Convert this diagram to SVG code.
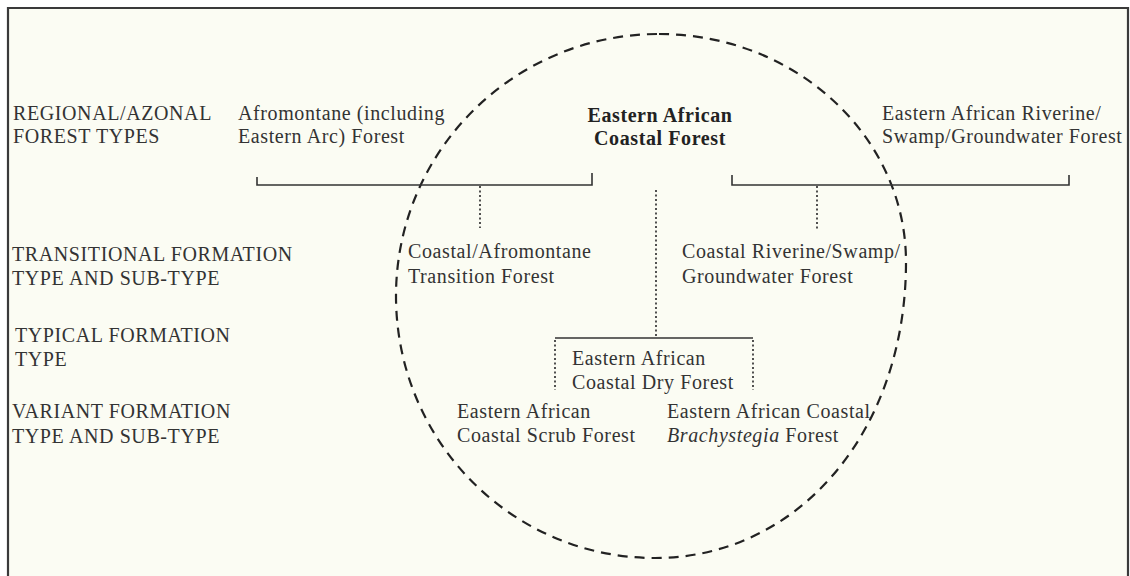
<svg xmlns="http://www.w3.org/2000/svg" width="1130" height="576" viewBox="0 0 1130 576">
<style>
text{font-family:"Liberation Serif","Times New Roman",serif;font-size:20px;fill:#333;letter-spacing:0.6px}
.b{font-weight:bold;fill:#222}
.solid{fill:none;stroke:#333;stroke-width:1.6}
.dot{fill:none;stroke:#333;stroke-width:1.7;stroke-dasharray:2 2.5}
</style>
<rect x="0" y="0" width="1130" height="576" fill="#ffffff"/>
<rect x="8" y="8" width="1120" height="570" fill="#fbfcf3"/>
<path d="M8,578 V8 H1128 V578" fill="none" stroke="#3a3a3a" stroke-width="2.2"/>
<g id="circle">
<path d="M659,34 C795,34 906,136 906,262 C906,432 798,558 655,558 C512,558 396,441 396,296 C396,151 514,34 659,34 Z" fill="none" stroke="#222" stroke-width="2.2" stroke-dasharray="10 7"/>
</g>
<g id="level-labels">
<text x="13" y="120">REGIONAL/AZONAL</text>
<text x="13" y="143">FOREST TYPES</text>
<text x="12" y="261">TRANSITIONAL FORMATION</text>
<text x="12" y="285">TYPE AND SUB-TYPE</text>
<text x="15" y="342">TYPICAL FORMATION</text>
<text x="15" y="366">TYPE</text>
<text x="12" y="418">VARIANT FORMATION</text>
<text x="12" y="443">TYPE AND SUB-TYPE</text>
</g>
<g id="afromontane">
<text x="238" y="120">Afromontane (including</text>
<text x="238" y="143">Eastern Arc) Forest</text>
</g>
<g id="coastal-forest">
<text class="b" x="660" y="122" text-anchor="middle">Eastern African</text>
<text class="b" x="660" y="145" text-anchor="middle">Coastal Forest</text>
</g>
<g id="riverine">
<text x="882" y="120">Eastern African Riverine/</text>
<text x="882" y="143">Swamp/Groundwater Forest</text>
</g>
<g id="transition">
<text x="408" y="258">Coastal/Afromontane</text>
<text x="408" y="283">Transition Forest</text>
</g>
<g id="coastal-riverine">
<text x="682" y="258">Coastal Riverine/Swamp/</text>
<text x="682" y="283">Groundwater Forest</text>
</g>
<g id="dry-forest">
<text x="572" y="365">Eastern African</text>
<text x="572" y="389">Coastal Dry Forest</text>
</g>
<g id="scrub-forest">
<text x="457" y="418">Eastern African</text>
<text x="457" y="442">Coastal Scrub Forest</text>
</g>
<g id="brachystegia">
<text x="667" y="418">Eastern African Coastal</text>
<text x="667" y="442"><tspan font-style="italic">Brachystegia</tspan> Forest</text>
</g>
<g id="connectors">
<path class="solid" d="M257,177 V185 H592 V173"/>
<path class="dot" d="M480,186 V228"/>
<path class="solid" d="M732,175 V185 H1069 V175"/>
<path class="dot" d="M817,186 V230"/>
<path class="dot" d="M656,190 V337"/>
<path class="solid" d="M555,338 H753"/>
<path class="dot" d="M555,340 V390"/>
<path class="dot" d="M753,340 V390"/>
</g>
</svg>
